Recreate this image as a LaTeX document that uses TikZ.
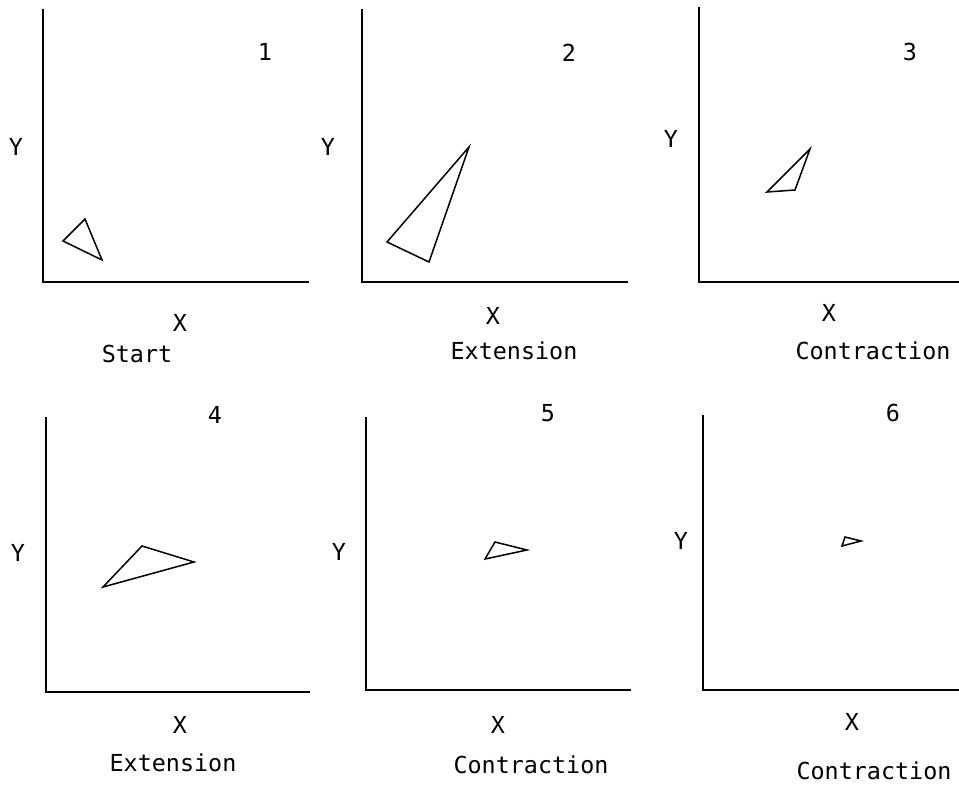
\documentclass[tikz,border=0pt]{standalone}
\usepackage{fontspec}
\usepackage{tikz}
\usetikzlibrary{positioning}
\newfontfamily\plotfont{DejaVu Sans Mono}
\tikzset{
    % axes of each panel
    axis/.style={line width=2pt, black, line cap=rect},
    % the simplex triangle
    simplex/.style={line width=1.5pt, black, line join=miter},
    % all texts in the same mono face
    lbl/.style={font={\plotfont\fontsize{23.4}{28}\selectfont}, inner sep=0pt},
    numlabel/.style={lbl},
    axlabel/.style={lbl},
    steplabel/.style={lbl},
}

\begin{document}
\begin{tikzpicture}[x=1pt,y=-1pt]
  \useasboundingbox (0,0) rectangle (959,786);
  % axes: origin, top of y axis, end of x axis
  \foreach \n/\ox/\oy/\tp/\rt in {1/43/282/10/308, 2/362/282/10/627, 3/699/282/8/959,
                                  4/46/692/418/309, 5/366/690/418/630, 6/703/690/416/959}{
    \coordinate (o\n) at (\ox,\oy);
    \coordinate (top\n) at (\ox,\tp);
    \coordinate (rt\n) at (\rt,\oy);
    \draw[axis] (top\n) -- (o\n) -- (rt\n);
  }
  % panel numbers
  \foreach \n/\x/\y in {1/265/52, 2/569/53, 3/910/52, 4/215/415, 5/548/413, 6/893/413}
    \node[numlabel] (num\n) at (\x,\y) {\n};
  % axis names
  \foreach \n/\yx/\yy/\xx/\xy in {1/16/147/180/323, 2/328/147/493/316, 3/671/139/829/313,
                                  4/18/553/180/725, 5/339/552/498/725, 6/681/541/852/722}{
    \node[axlabel] (ylab\n) at (\yx,\yy) {Y};
    \node[axlabel] (xlab\n) at (\xx,\xy) {X};
  }
  % step names
  \node[steplabel] (step1) at (137,354) {Start};
  \node[steplabel] (step2) at (514,351) {Extension};
  \node[steplabel] (step3) at (873,351) {Contraction};
  \node[steplabel] (step4) at (173,763) {Extension};
  \node[steplabel] (step5) at (531,765) {Contraction};
  \node[steplabel] (step6) at (874,771) {Contraction};
  % triangles
  \draw[simplex] (85,219) -- (63,241) -- (102,260) -- cycle;
  \draw[simplex] (469,147) -- (387,242) -- (429,262) -- cycle;
  \draw[simplex] (810,149) -- (767,192) -- (795,190) -- cycle;
  \draw[simplex] (142,546) -- (194,562) -- (103,587) -- cycle;
  \draw[simplex] (495,542) -- (527,550) -- (485,559) -- cycle;
  \draw[simplex] (845,537) -- (861,541) -- (842,546) -- cycle;
\end{tikzpicture}
\end{document}
